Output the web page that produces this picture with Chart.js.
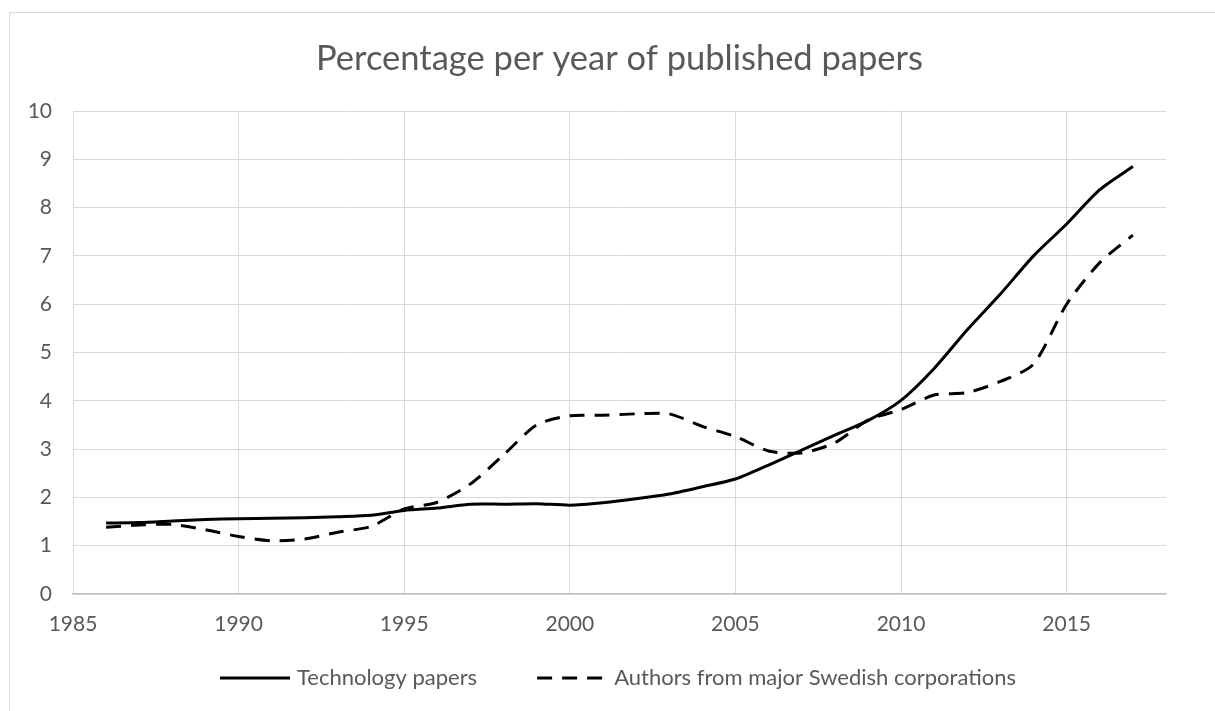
<!DOCTYPE html>
<html>
<head>
<meta charset="utf-8">
<title>Percentage per year of published papers</title>
<script src="https://cdn.jsdelivr.net/npm/chart.js@4.4.1/dist/chart.umd.min.js"></script>
<style>
  html, body { margin: 0; padding: 0; background: #ffffff; }
  #wrap { width: 1215px; height: 711px; position: relative; }
</style>
</head>
<body>
<div id="wrap"><canvas id="chart"></canvas></div>
<script>
// Publication years
const years = [1986, 1987, 1988, 1989, 1990, 1991, 1992, 1993, 1994, 1995, 1996,
  1997, 1998, 1999, 2000, 2001, 2002, 2003, 2004, 2005, 2006, 2007, 2008, 2009,
  2010, 2011, 2012, 2013, 2014, 2015, 2016, 2017];

// Share (%) of papers per year
const technologyPapers = [1.47, 1.48, 1.51, 1.54, 1.56, 1.57, 1.58, 1.60, 1.63, 1.73,
  1.78, 1.86, 1.86, 1.87, 1.84, 1.89, 1.97, 2.07, 2.22, 2.38, 2.67, 2.98, 3.29, 3.59,
  4.01, 4.67, 5.47, 6.21, 7.00, 7.66, 8.37, 8.85];
const swedishCorporations = [1.38, 1.43, 1.44, 1.33, 1.19, 1.10, 1.14, 1.28, 1.40, 1.76,
  1.90, 2.28, 2.88, 3.50, 3.69, 3.70, 3.73, 3.73, 3.47, 3.26, 2.96, 2.92, 3.13, 3.60,
  3.82, 4.12, 4.17, 4.40, 4.76, 6.00, 6.86, 7.43];

const seriesNames = ['Technology papers', 'Authors from major Swedish corporations'];
const chartTitle = 'Percentage per year of published papers';

// Axis ranges and tick spacing
const xRange = [1985, 2018];
const xStep = 5;
const yRange = [0, 10];
const yStep = 1;

const FONT = 'Lato, "Open Sans", sans-serif';
const TEXT = '#595959';
const GRID = '#d9d9d9';

const toPoints = (vals) => vals.map((v, i) => ({ x: years[i], y: v }));

// Thin frame around the whole chart area
const frame = {
  id: 'frame',
  beforeDraw(chart) {
    const { ctx } = chart;
    ctx.save();
    ctx.strokeStyle = GRID;
    ctx.lineWidth = 1;
    ctx.strokeRect(9.5, 12.5, chart.width + 20, chart.height + 20);
    ctx.restore();
  }
};

// Legend row under the axis: line sample followed by the series name
const lineLegend = {
  id: 'lineLegend',
  afterDraw(chart, args, o) {
    const { ctx } = chart;
    ctx.save();
    ctx.font = `${o.size}px ${FONT}`;
    const items = chart.data.datasets.map(ds => ({ ds, w: ctx.measureText(ds.label).width }));
    const total = items.reduce((s, it) => s + o.sample + o.gap + it.w, 0) + o.spacing * (items.length - 1);
    let x = o.centerX - total / 2;
    const y = o.y;
    items.forEach(it => {
      ctx.beginPath();
      ctx.setLineDash(it.ds.borderDash || []);
      ctx.lineWidth = it.ds.borderWidth;
      ctx.strokeStyle = it.ds.borderColor;
      ctx.lineCap = 'butt';
      ctx.moveTo(x, y);
      ctx.lineTo(x + o.sample, y);
      ctx.stroke();
      ctx.setLineDash([]);
      x += o.sample + o.gap;
      ctx.fillStyle = TEXT;
      ctx.textBaseline = 'middle';
      ctx.textAlign = 'left';
      ctx.fillText(it.ds.label, x, y);
      x += it.w + o.spacing;
    });
    ctx.restore();
  }
};

new Chart(document.getElementById('chart'), {
  type: 'line',
  data: {
    datasets: [
      {
        label: seriesNames[0],
        data: toPoints(technologyPapers),
        borderColor: '#000000',
        backgroundColor: '#000000',
        borderWidth: 3,
        pointRadius: 0,
        tension: 0.25,
        borderJoinStyle: 'round',
        fill: false
      },
      {
        label: seriesNames[1],
        data: toPoints(swedishCorporations),
        borderColor: '#000000',
        backgroundColor: '#000000',
        borderWidth: 3,
        borderDash: [15, 10],
        pointRadius: 0,
        tension: 0.25,
        borderJoinStyle: 'round',
        fill: false
      }
    ]
  },
  options: {
    responsive: true,
    maintainAspectRatio: false,
    animation: false,
    layout: { padding: { left: 0, right: 49, top: 0, bottom: 67 } },
    plugins: {
      legend: { display: false },
      tooltip: { enabled: false },
      title: {
        display: true,
        fullSize: false,
        text: chartTitle,
        color: TEXT,
        font: { family: FONT, size: 34.5, weight: 'normal' },
        padding: { top: 38, bottom: 31.6 }
      },
      lineLegend: { size: 22, sample: 70, gap: 7, spacing: 60, centerX: 618, y: 678 }
    },
    scales: {
      x: {
        type: 'linear',
        min: xRange[0],
        max: xRange[1],
        afterBuildTicks(scale) {
          scale.ticks = scale.ticks.filter(t => (t.value - xRange[0]) % xStep === 0);
        },
        afterFit(scale) { scale.height = 50; },
        ticks: {
          stepSize: xStep,
          color: TEXT,
          font: { family: FONT, size: 21 },
          padding: 18,
          maxRotation: 0,
          callback: (v) => String(v)
        },
        grid: { color: GRID, lineWidth: 1, drawTicks: false },
        border: { display: true, color: '#bfbfbf', width: 1.3 }
      },
      y: {
        min: yRange[0],
        max: yRange[1],
        afterFit(scale) { scale.width = 73; },
        ticks: {
          stepSize: yStep,
          color: TEXT,
          font: { family: FONT, size: 21 },
          padding: 21
        },
        grid: { color: GRID, lineWidth: 1, drawTicks: false },
        border: { display: false }
      }
    }
  },
  plugins: [frame, lineLegend]
});
</script>
</body>
</html>
